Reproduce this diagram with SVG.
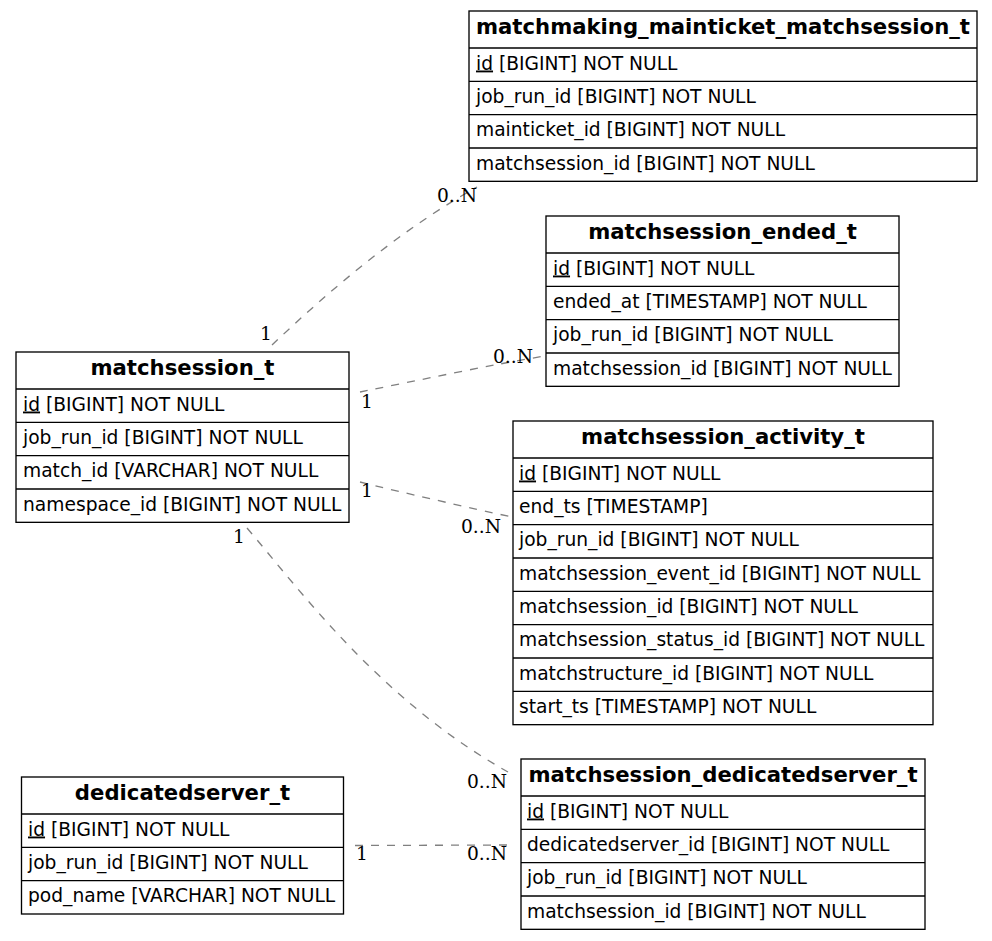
<svg xmlns="http://www.w3.org/2000/svg" width="992" height="941" viewBox="0 0 992 941">
<style>
.box{fill:#fff;stroke:#000;stroke-width:1.33}
.sep{stroke:#000;stroke-width:1.33}
.t{font-family:"DejaVu Sans",sans-serif;font-size:21.2px;font-weight:bold;text-anchor:middle;fill:#000}
.r{font-family:"DejaVu Sans",sans-serif;font-size:18.67px;fill:#000}
.pk{text-decoration:underline}
.e{fill:none;stroke:#808080;stroke-width:1.33;stroke-dasharray:8 8}
.l{font-family:"DejaVu Serif",serif;font-size:18.67px;fill:#000}
.le{text-anchor:end}
</style>
<rect width="992" height="941" fill="#fff"/>
<g id="connectors">
<path class="e" d="M272,345 C330,290 400,230 477,187"/>
<path class="e" d="M360,392 C420,380 490,365 545,356"/>
<path class="e" d="M360,482 C400,492 470,508 512,517"/>
<path class="e" d="M247,528 C300,590 380,700 508,772"/>
<path class="e" d="M355,845.5 L508,845"/>
<text class="l" x="260" y="340">1</text>
<text class="l le" x="477" y="202">0..N</text>
<text class="l" x="361" y="408">1</text>
<text class="l le" x="533" y="363">0..N</text>
<text class="l" x="361" y="497">1</text>
<text class="l le" x="501" y="533">0..N</text>
<text class="l" x="233" y="543">1</text>
<text class="l le" x="507" y="788">0..N</text>
<text class="l" x="356" y="860">1</text>
<text class="l le" x="507" y="860">0..N</text>
</g>
<g id="matchmaking_mainticket_matchsession_t">
<rect class="box" x="469" y="11" width="508" height="170.33"/>
<line class="sep" x1="469" y1="48" x2="977" y2="48"/>
<line class="sep" x1="469" y1="81.33" x2="977" y2="81.33"/>
<line class="sep" x1="469" y1="114.67" x2="977" y2="114.67"/>
<line class="sep" x1="469" y1="148" x2="977" y2="148"/>
<text class="t" x="723" y="34">matchmaking_mainticket_matchsession_t</text>
<text class="r" x="476" y="69.5"><tspan class="pk">id</tspan> [BIGINT] NOT NULL</text>
<text class="r" x="476" y="102.8">job_run_id [BIGINT] NOT NULL</text>
<text class="r" x="476" y="136.2">mainticket_id [BIGINT] NOT NULL</text>
<text class="r" x="476" y="169.5">matchsession_id [BIGINT] NOT NULL</text>
</g>
<g id="matchsession_ended_t">
<rect class="box" x="546" y="216" width="353" height="170.33"/>
<line class="sep" x1="546" y1="253" x2="899" y2="253"/>
<line class="sep" x1="546" y1="286.33" x2="899" y2="286.33"/>
<line class="sep" x1="546" y1="319.67" x2="899" y2="319.67"/>
<line class="sep" x1="546" y1="353" x2="899" y2="353"/>
<text class="t" x="722.5" y="239">matchsession_ended_t</text>
<text class="r" x="553" y="274.5"><tspan class="pk">id</tspan> [BIGINT] NOT NULL</text>
<text class="r" x="553" y="307.8">ended_at [TIMESTAMP] NOT NULL</text>
<text class="r" x="553" y="341.2">job_run_id [BIGINT] NOT NULL</text>
<text class="r" x="553" y="374.5">matchsession_id [BIGINT] NOT NULL</text>
</g>
<g id="matchsession_t">
<rect class="box" x="16" y="352" width="333" height="170.33"/>
<line class="sep" x1="16" y1="389" x2="349" y2="389"/>
<line class="sep" x1="16" y1="422.33" x2="349" y2="422.33"/>
<line class="sep" x1="16" y1="455.67" x2="349" y2="455.67"/>
<line class="sep" x1="16" y1="489" x2="349" y2="489"/>
<text class="t" x="182.5" y="375">matchsession_t</text>
<text class="r" x="23" y="410.5"><tspan class="pk">id</tspan> [BIGINT] NOT NULL</text>
<text class="r" x="23" y="443.8">job_run_id [BIGINT] NOT NULL</text>
<text class="r" x="23" y="477.2">match_id [VARCHAR] NOT NULL</text>
<text class="r" x="23" y="510.5">namespace_id [BIGINT] NOT NULL</text>
</g>
<g id="matchsession_activity_t">
<rect class="box" x="513" y="421" width="420" height="303.67"/>
<line class="sep" x1="513" y1="458" x2="933" y2="458"/>
<line class="sep" x1="513" y1="491.33" x2="933" y2="491.33"/>
<line class="sep" x1="513" y1="524.67" x2="933" y2="524.67"/>
<line class="sep" x1="513" y1="558" x2="933" y2="558"/>
<line class="sep" x1="513" y1="591.33" x2="933" y2="591.33"/>
<line class="sep" x1="513" y1="624.67" x2="933" y2="624.67"/>
<line class="sep" x1="513" y1="658" x2="933" y2="658"/>
<line class="sep" x1="513" y1="691.33" x2="933" y2="691.33"/>
<text class="t" x="723" y="444">matchsession_activity_t</text>
<text class="r" x="519" y="479.5"><tspan class="pk">id</tspan> [BIGINT] NOT NULL</text>
<text class="r" x="519" y="512.8">end_ts [TIMESTAMP]</text>
<text class="r" x="519" y="546.2">job_run_id [BIGINT] NOT NULL</text>
<text class="r" x="519" y="579.5">matchsession_event_id [BIGINT] NOT NULL</text>
<text class="r" x="519" y="612.8">matchsession_id [BIGINT] NOT NULL</text>
<text class="r" x="519" y="646.2">matchsession_status_id [BIGINT] NOT NULL</text>
<text class="r" x="519" y="679.5">matchstructure_id [BIGINT] NOT NULL</text>
<text class="r" x="519" y="712.8">start_ts [TIMESTAMP] NOT NULL</text>
</g>
<g id="dedicatedserver_t">
<rect class="box" x="21.5" y="777" width="322" height="137"/>
<line class="sep" x1="21.5" y1="814" x2="343.5" y2="814"/>
<line class="sep" x1="21.5" y1="847.33" x2="343.5" y2="847.33"/>
<line class="sep" x1="21.5" y1="880.67" x2="343.5" y2="880.67"/>
<text class="t" x="182.5" y="800">dedicatedserver_t</text>
<text class="r" x="28" y="835.5"><tspan class="pk">id</tspan> [BIGINT] NOT NULL</text>
<text class="r" x="28" y="868.8">job_run_id [BIGINT] NOT NULL</text>
<text class="r" x="28" y="902.2">pod_name [VARCHAR] NOT NULL</text>
</g>
<g id="matchsession_dedicatedserver_t">
<rect class="box" x="521" y="759" width="404" height="170.33"/>
<line class="sep" x1="521" y1="796" x2="925" y2="796"/>
<line class="sep" x1="521" y1="829.33" x2="925" y2="829.33"/>
<line class="sep" x1="521" y1="862.67" x2="925" y2="862.67"/>
<line class="sep" x1="521" y1="896" x2="925" y2="896"/>
<text class="t" x="723" y="782">matchsession_dedicatedserver_t</text>
<text class="r" x="527" y="817.5"><tspan class="pk">id</tspan> [BIGINT] NOT NULL</text>
<text class="r" x="527" y="850.8">dedicatedserver_id [BIGINT] NOT NULL</text>
<text class="r" x="527" y="884.2">job_run_id [BIGINT] NOT NULL</text>
<text class="r" x="527" y="917.5">matchsession_id [BIGINT] NOT NULL</text>
</g>
</svg>
